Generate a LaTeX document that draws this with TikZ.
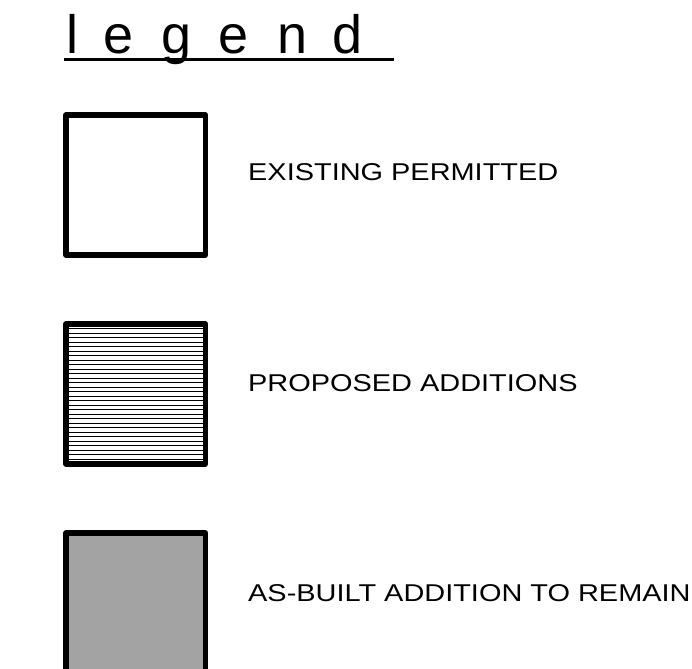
\documentclass[tikz,border=0pt]{standalone}
\usepackage{fontspec}
\setmainfont{Liberation Sans}
\definecolor{asbuilt}{HTML}{A3A3A3}
\begin{document}
\begin{tikzpicture}[x=1pt,y=-1pt,
  swatch/.style={draw=black, line width=5.5pt, line join=round, minimum width=139.5pt, minimum height=140pt, inner sep=0pt, outer sep=0pt, anchor=north west},
  legendlabel/.style={anchor=base west, inner sep=0pt, font=\fontsize{24.3}{28}\selectfont},
  titleletter/.style={anchor=base, inner sep=0pt, font=\fontsize{54}{60}\selectfont},
  hatchline/.style={line width=0.8pt, black}]
\useasboundingbox (0,0) rectangle (692,668);
\clip (0,0) rectangle (692,668);
% title
\node[titleletter] (t1) at (72.5,53.3) {l};
\node[titleletter] (t2) at (118.4,53.3) {e};
\node[titleletter] (t3) at (176.7,53.3) {g};
\node[titleletter] (t4) at (233.4,53.3) {e};
\node[titleletter] (t5) at (293,53.3) {n};
\node[titleletter] (t6) at (348,53.3) {d};
\coordinate (ul1) at (64,59.5);
\coordinate (ul2) at (394,59.5);
\draw[line width=2.3pt] (ul1) -- (ul2);
% swatches
\foreach \i in {0,...,29} {
  \draw[hatchline] (66,{328.5+4.5*\i}) -- (205.5,{328.5+4.5*\i});
}
\node[swatch] (b1) at (66,115) {};
\node[swatch] (b2) at (66,324) {};
\node[swatch, fill=asbuilt] (b3) at (66,533) {};
% labels
\node[legendlabel] (l1) at (248,180.7) {\scalebox{1.19}[1]{EXISTING PERMITTED}};
\node[legendlabel] (l2) at (248,391.7) {\scalebox{1.19}[1]{PROPOSED ADDITIONS}};
\node[legendlabel] (l3) at (248,601.7) {\scalebox{1.19}[1]{AS-BUILT ADDITION TO REMAIN}};
\end{tikzpicture}
\end{document}
